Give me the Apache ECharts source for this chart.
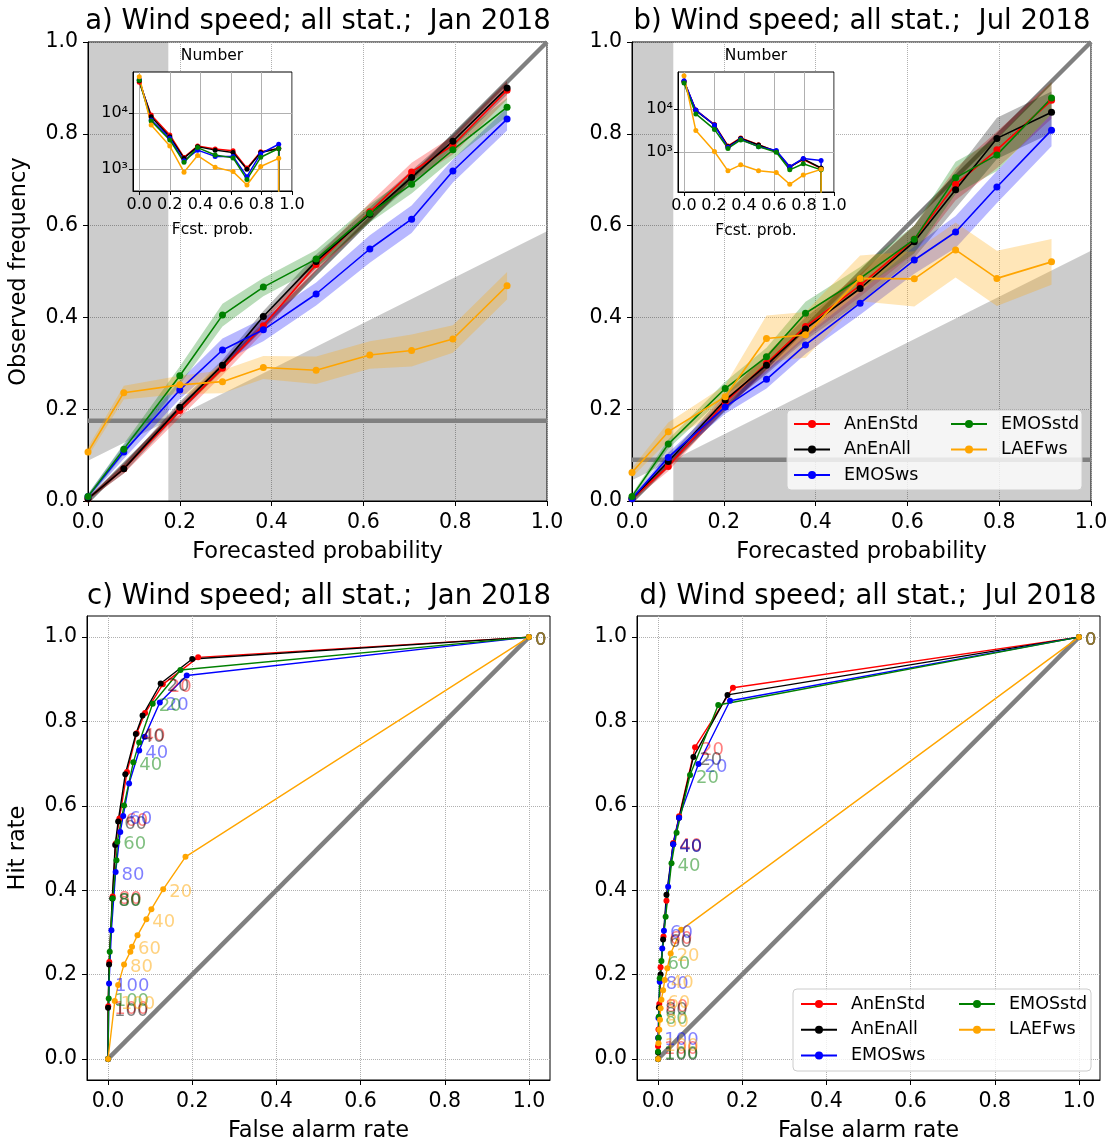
<!DOCTYPE html>
<html><head><meta charset="utf-8">
<script src="https://cdn.jsdelivr.net/npm/echarts@6/dist/echarts.min.js"></script>
<style>html,body{margin:0;padding:0;background:#fff}#c{width:1113px;height:1144px}</style>
</head><body><div id="c"></div>
<script>
// ---------------- DATA ----------------
const modelNames = ['AnEnStd', 'AnEnAll', 'EMOSws', 'EMOSstd', 'LAEFws'];
const tickVals = [0, 0.2, 0.4, 0.6, 0.8, 1.0];

const climJan = 0.175;
const climJul = 0.09;

// reliability: forecast-probability bins
const binsJan = [0, 0.078, 0.2, 0.293, 0.382, 0.497, 0.614, 0.705, 0.795, 0.913];
const binsJul = [0, 0.079, 0.203, 0.293, 0.378, 0.497, 0.615, 0.705, 0.795, 0.914];

// observed frequency, Jan 2018
const relJanAnEnStd = [0.005, 0.07, 0.197, 0.289, 0.382, 0.515, 0.63, 0.717, 0.775, 0.895];
const relJanAnEnAll = [0.005, 0.07, 0.204, 0.296, 0.402, 0.522, 0.625, 0.705, 0.784, 0.9];
const relJanEMOSws  = [0.01, 0.107, 0.242, 0.329, 0.373, 0.451, 0.549, 0.614, 0.719, 0.832];
const relJanEMOSstd = [0.01, 0.113, 0.273, 0.405, 0.466, 0.527, 0.627, 0.69, 0.765, 0.858];
const relJanLAEFws  = [0.107, 0.236, 0.253, 0.26, 0.291, 0.285, 0.318, 0.328, 0.353, 0.469];
// uncertainty half-widths, Jan
const bandJanAnEnStd = [0.003, 0.01, 0.015, 0.015, 0.015, 0.015, 0.02, 0.02, 0.02, 0.02];
const bandJanAnEnAll = [0.003, 0.01, 0.012, 0.012, 0.012, 0.015, 0.015, 0.015, 0.015, 0.015];
const bandJanEMOSws  = [0.005, 0.015, 0.02, 0.025, 0.025, 0.025, 0.03, 0.03, 0.025, 0.025];
const bandJanEMOSstd = [0.005, 0.012, 0.02, 0.025, 0.02, 0.02, 0.02, 0.02, 0.02, 0.02];
const bandJanLAEFws  = [0.01, 0.015, 0.02, 0.025, 0.025, 0.03, 0.03, 0.035, 0.03, 0.03];

// observed frequency, Jul 2018
const relJulAnEnStd = [0.005, 0.075, 0.215, 0.3, 0.38, 0.47, 0.57, 0.69, 0.765, 0.873];
const relJulAnEnAll = [0.005, 0.086, 0.22, 0.296, 0.375, 0.463, 0.565, 0.678, 0.79, 0.847];
const relJulEMOSws  = [0.005, 0.095, 0.205, 0.265, 0.34, 0.431, 0.525, 0.586, 0.684, 0.808];
const relJulEMOSstd = [0.01, 0.124, 0.245, 0.314, 0.409, 0.485, 0.57, 0.704, 0.754, 0.878];
const relJulLAEFws  = [0.062, 0.151, 0.227, 0.354, 0.362, 0.485, 0.484, 0.547, 0.485, 0.521];
const bandJulAnEnStd = [0.005, 0.01, 0.015, 0.02, 0.025, 0.025, 0.03, 0.035, 0.04, 0.04];
const bandJulAnEnAll = [0.005, 0.01, 0.015, 0.02, 0.025, 0.03, 0.035, 0.04, 0.045, 0.045];
const bandJulEMOSws  = [0.005, 0.01, 0.015, 0.02, 0.02, 0.025, 0.03, 0.035, 0.035, 0.035];
const bandJulEMOSstd = [0.005, 0.01, 0.015, 0.02, 0.025, 0.025, 0.03, 0.035, 0.035, 0.035];
const bandJulLAEFws  = [0.01, 0.02, 0.025, 0.05, 0.05, 0.05, 0.06, 0.06, 0.06, 0.05];

// inset: number of forecasts per bin (last entry = empty bin)
const cntBinsJan = [0, 0.078, 0.2, 0.293, 0.382, 0.497, 0.614, 0.705, 0.795, 0.913, 0.913];
const cntBinsJul = [0, 0.079, 0.203, 0.293, 0.378, 0.497, 0.615, 0.705, 0.795, 0.914, 0.914];
const cntJanAnEnStd = [36000, 9300, 4100, 1630, 2600, 2300, 2150, 1050, 2050, 2350, 1];
const cntJanAnEnAll = [38000, 8700, 3800, 1580, 2540, 2200, 2000, 1000, 2000, 2350, 1];
const cntJanEMOSws  = [40000, 7600, 3600, 1420, 2200, 1700, 1700, 740, 1900, 2800, 1];
const cntJanEMOSstd = [39000, 7300, 3340, 1330, 2440, 1800, 1600, 660, 1640, 2350, 1];
const cntJanLAEFws  = [45000, 6200, 2600, 890, 1760, 1090, 910, 525, 1120, 1570, 1];
const cntJulAnEnStd = [45000, 9600, 4400, 1400, 2150, 1500, 1050, 460, 680, 420, 1];
const cntJulAnEnAll = [44000, 9300, 4300, 1360, 2100, 1480, 1040, 450, 700, 430, 1];
const cntJulEMOSws  = [46000, 9600, 4300, 1300, 2000, 1350, 1100, 460, 720, 640, 1];
const cntJulEMOSstd = [41000, 7800, 3400, 1230, 1940, 1350, 1000, 390, 540, 390, 1];
const cntJulLAEFws  = [60000, 3200, 1040, 370, 510, 370, 340, 180, 295, 400, 1];

// ROC: thresholds (last point = origin, unlabeled)
const rocThresholds = [0, 10, 20, 30, 40, 50, 60, 70, 80, 90, 100, null];
const rocJanAnEnStdF = [1, 0.214, 0.13, 0.088, 0.068, 0.045, 0.027, 0.018, 0.011, 0.003, 0.0005, 0];
const rocJanAnEnStdH = [1, 0.952, 0.888, 0.82, 0.772, 0.68, 0.57, 0.51, 0.385, 0.23, 0.125, 0];
const rocJanAnEnAllF = [1, 0.2, 0.125, 0.082, 0.066, 0.041, 0.024, 0.017, 0.01, 0.0024, 0, 0];
const rocJanAnEnAllH = [1, 0.948, 0.89, 0.814, 0.77, 0.675, 0.563, 0.507, 0.38, 0.224, 0.121, 0];
const rocJanEMOSwsF  = [1, 0.187, 0.123, 0.087, 0.074, 0.05, 0.036, 0.029, 0.018, 0.008, 0.0024, 0];
const rocJanEMOSwsH  = [1, 0.909, 0.845, 0.764, 0.731, 0.653, 0.576, 0.538, 0.443, 0.305, 0.179, 0];
const rocJanEMOSstdF = [1, 0.172, 0.106, 0.074, 0.06, 0.038, 0.022, 0.02, 0.011, 0.004, 0.0016, 0];
const rocJanEMOSstdH = [1, 0.922, 0.842, 0.75, 0.703, 0.601, 0.515, 0.471, 0.38, 0.254, 0.143, 0];
const rocJanLAEFwsF  = [1, 0.184, 0.131, 0.103, 0.091, 0.07, 0.057, 0.053, 0.038, 0.024, 0.016, 0];
const rocJanLAEFwsH  = [1, 0.479, 0.402, 0.355, 0.331, 0.293, 0.266, 0.254, 0.224, 0.175, 0.137, 0];

const rocJulAnEnStdF = [1, 0.178, 0.088, 0.05, 0.036, 0.02, 0.013, 0.006, 0.003, 0.001, 0, 0];
const rocJulAnEnStdH = [1, 0.88, 0.739, 0.575, 0.512, 0.375, 0.29, 0.217, 0.13, 0.07, 0.03, 0];
const rocJulAnEnAllF = [1, 0.165, 0.084, 0.05, 0.036, 0.02, 0.012, 0.006, 0.002, 0.001, 0, 0];
const rocJulAnEnAllH = [1, 0.863, 0.716, 0.572, 0.509, 0.389, 0.283, 0.2, 0.122, 0.049, 0.015, 0];
const rocJulEMOSwsF  = [1, 0.171, 0.096, 0.05, 0.036, 0.024, 0.014, 0.01, 0.004, 0.001, 0.0005, 0];
const rocJulEMOSwsH  = [1, 0.849, 0.699, 0.572, 0.509, 0.408, 0.304, 0.262, 0.183, 0.097, 0.05, 0];
const rocJulEMOSstdF = [1, 0.143, 0.076, 0.044, 0.032, 0.018, 0.008, 0.004, 0.002, 0.001, 0, 0];
const rocJulEMOSstdH = [1, 0.839, 0.673, 0.536, 0.464, 0.337, 0.232, 0.191, 0.1, 0.05, 0.017, 0];
const rocJulLAEFwsF  = [1, 0.055, 0.03, 0.022, 0.016, 0.012, 0.008, 0.006, 0.0047, 0.003, 0.001, 0];
const rocJulLAEFwsH  = [1, 0.306, 0.25, 0.215, 0.187, 0.163, 0.14, 0.12, 0.093, 0.069, 0.037, 0];

// ---------------- STYLE ----------------
const FONT = 'DejaVu Sans';
const colorOf = {AnEnStd: '#ff0000', AnEnAll: '#000000', EMOSws: '#0000ff', EMOSstd: '#008000', LAEFws: '#ffa500'};
const rgbOf = {AnEnStd: '255,0,0', AnEnAll: '0,0,0', EMOSws: '0,0,255', EMOSstd: '0,128,0', LAEFws: '255,165,0'};
const fmt1 = v => (Math.round(v * 10) / 10).toFixed(1);
const sup = {3: '\u00b3', 4: '\u2074'};

const grids = [
  {left: 88, top: 42, width: 459, height: 459},
  {left: 632, top: 42, width: 459, height: 459},
  {left: 87, top: 616, width: 463, height: 464},
  {left: 637, top: 616, width: 463, height: 464},
  {left: 133, top: 72, width: 159, height: 119, z: 5, backgroundColor: '#fff'},
  {left: 678, top: 72, width: 156, height: 120, z: 5, backgroundColor: '#fff'}
].map(g => Object.assign({show: true, borderColor: '#000', borderWidth: 1, backgroundColor: 'transparent'}, g));

function mainAxis(gi, dim, name, padded) {
  const a = {
    gridIndex: gi, type: 'value',
    min: padded ? -0.05 : 0, max: padded ? 1.05 : 1,
    axisLine: {show: true, onZero: false, lineStyle: {color: '#000', width: 1}},
    axisTick: {show: true, length: 5, lineStyle: {color: '#000'}},
    axisLabel: {fontSize: 20.5, color: '#000', fontFamily: FONT, margin: dim === 'x' ? 11 : 10, formatter: fmt1},
    splitLine: {show: true, lineStyle: {type: 'dotted', color: '#b0b0b0', width: 1}},
    name: name || '', nameLocation: 'middle',
    nameGap: dim === 'x' ? 40 : 57,
    nameTextStyle: {fontSize: 22.5, color: '#000', fontFamily: FONT}
  };
  if (padded) {
    a.axisLabel.customValues = tickVals;
    a.axisTick.customValues = tickVals;
  } else {
    a.interval = 0.2;
  }
  return a;
}
function insetX(gi, xmin) {
  return {
    gridIndex: gi, type: 'value', min: xmin, max: 1, z: 5,
    axisLine: {show: true, onZero: false, lineStyle: {color: '#000'}},
    axisTick: {show: true, length: 4, customValues: tickVals, lineStyle: {color: '#000'}},
    axisLabel: {fontSize: 16, color: '#000', fontFamily: FONT, margin: 6, customValues: tickVals, formatter: fmt1},
    splitLine: {show: true, lineStyle: {type: 'solid', color: '#b0b0b0', width: 1}},
    name: 'Fcst. prob.', nameLocation: 'middle', nameGap: 31,
    nameTextStyle: {fontSize: 15.5, color: '#000', fontFamily: FONT}
  };
}
function insetY(gi, ymin, ymax) {
  return {
    gridIndex: gi, type: 'log', logBase: 10, min: ymin, max: ymax, z: 5,
    axisLine: {show: true, onZero: false, lineStyle: {color: '#000'}},
    axisTick: {show: true, length: 4, customValues: [1000, 10000], lineStyle: {color: '#000'}},
    axisLabel: {fontSize: 16, color: '#000', fontFamily: FONT, margin: 5, customValues: [1000, 10000],
      formatter: v => '10' + sup[Math.round(Math.log10(v))]},
    splitLine: {show: true, lineStyle: {type: 'solid', color: '#b0b0b0', width: 1}}
  };
}

const xAxes = [
  mainAxis(0, 'x', 'Forecasted probability', false),
  mainAxis(1, 'x', 'Forecasted probability', false),
  mainAxis(2, 'x', 'False alarm rate', true),
  mainAxis(3, 'x', 'False alarm rate', true),
  insetX(4, -0.041),
  insetX(5, -0.04)
];
const yAxes = [
  mainAxis(0, 'y', 'Observed frequency', false),
  mainAxis(1, 'y', '', false),
  mainAxis(2, 'y', 'Hit rate', true),
  mainAxis(3, 'y', '', true),
  insetY(4, 410, 54600),
  insetY(5, 119, 73600)
];

const series = [];

function shading(gi, clim) {
  series.push({
    type: 'custom', xAxisIndex: gi, yAxisIndex: gi, z: 1, silent: true, clip: true, animation: false,
    data: [[clim, clim]],
    renderItem: function (params, api) {
      const c = api.value(0);
      const p = (x, y) => api.coord([x, y]);
      const st = {fill: 'rgba(0,0,0,0.2)'};
      return {type: 'group', children: [
        {type: 'polygon', shape: {points: [p(0, c / 2), p(c, c), p(c, 1), p(0, 1)]}, style: st},
        {type: 'polygon', shape: {points: [p(c, 0), p(c, c), p(1, (1 + c) / 2), p(1, 0)]}, style: st}
      ]};
    }
  });
}
function grayLine(gi, pts) {
  series.push({
    type: 'line', xAxisIndex: gi, yAxisIndex: gi, z: 2, silent: true, animation: false,
    data: pts, symbol: 'none', lineStyle: {color: '#808080', width: 4.5}
  });
}
function band(gi, bins, vals, hw, name) {
  series.push({
    type: 'custom', xAxisIndex: gi, yAxisIndex: gi, z: 3, silent: true, clip: true, animation: false,
    data: bins.map((x, i) => [x, vals[i] - hw[i], vals[i] + hw[i]]),
    renderItem: function (params, api) {
      if (params.dataIndex !== 0) return null;
      const pts = [];
      for (let i = 0; i < bins.length; i++) pts.push(api.coord([bins[i], vals[i] + hw[i]]));
      for (let i = bins.length - 1; i >= 0; i--) pts.push(api.coord([bins[i], vals[i] - hw[i]]));
      return {type: 'polygon', shape: {points: pts}, style: {fill: 'rgba(' + rgbOf[name] + ',0.28)'}};
    }
  });
}
function relLine(gi, bins, vals, name, size, width, z) {
  series.push({
    type: 'line', name: name, xAxisIndex: gi, yAxisIndex: gi, z: z || 4, animation: false,
    data: bins.map((x, i) => [x, vals[i]]),
    symbol: 'circle', symbolSize: size || 7,
    lineStyle: {color: colorOf[name], width: width || 1.6},
    itemStyle: {color: colorOf[name]}
  });
}
function rocLine(gi, F, H, name) {
  series.push({
    type: 'line', name: name, xAxisIndex: gi, yAxisIndex: gi, z: 4, animation: false,
    data: F.map((f, i) => {
      const t = rocThresholds[i];
      const item = {value: [f, H[i]]};
      if (t !== null && t % 20 === 0) item.label = {show: true, formatter: String(t)};
      return item;
    }),
    symbol: 'circle', symbolSize: 6,
    lineStyle: {color: colorOf[name], width: 1.4},
    itemStyle: {color: colorOf[name]},
    label: {show: false, position: 'right', distance: 3, offset: [0, 3], fontSize: 18, fontFamily: FONT,
      color: 'rgba(' + rgbOf[name] + ',0.5)'}
  });
}

// panel a
shading(0, climJan);
grayLine(0, [[0, climJan], [1, climJan]]);
grayLine(0, [[0, 0], [1, 1]]);
const relJan = {AnEnStd: relJanAnEnStd, AnEnAll: relJanAnEnAll, EMOSws: relJanEMOSws, EMOSstd: relJanEMOSstd, LAEFws: relJanLAEFws};
const bandJan = {AnEnStd: bandJanAnEnStd, AnEnAll: bandJanAnEnAll, EMOSws: bandJanEMOSws, EMOSstd: bandJanEMOSstd, LAEFws: bandJanLAEFws};
modelNames.forEach(n => band(0, binsJan, relJan[n], bandJan[n], n));
modelNames.forEach(n => relLine(0, binsJan, relJan[n], n));
// panel b
shading(1, climJul);
grayLine(1, [[0, climJul], [1, climJul]]);
grayLine(1, [[0, 0], [1, 1]]);
const relJul = {AnEnStd: relJulAnEnStd, AnEnAll: relJulAnEnAll, EMOSws: relJulEMOSws, EMOSstd: relJulEMOSstd, LAEFws: relJulLAEFws};
const bandJul = {AnEnStd: bandJulAnEnStd, AnEnAll: bandJulAnEnAll, EMOSws: bandJulEMOSws, EMOSstd: bandJulEMOSstd, LAEFws: bandJulLAEFws};
modelNames.forEach(n => band(1, binsJul, relJul[n], bandJul[n], n));
modelNames.forEach(n => relLine(1, binsJul, relJul[n], n));
// insets
const cntJan = {AnEnStd: cntJanAnEnStd, AnEnAll: cntJanAnEnAll, EMOSws: cntJanEMOSws, EMOSstd: cntJanEMOSstd, LAEFws: cntJanLAEFws};
const cntJul = {AnEnStd: cntJulAnEnStd, AnEnAll: cntJulAnEnAll, EMOSws: cntJulEMOSws, EMOSstd: cntJulEMOSstd, LAEFws: cntJulLAEFws};
modelNames.forEach(n => relLine(4, cntBinsJan, cntJan[n], n, 5, 1.5, 6));
modelNames.forEach(n => relLine(5, cntBinsJul, cntJul[n], n, 5, 1.5, 6));
// panel c, d
grayLine(2, [[0, 0], [1, 1]]);
grayLine(3, [[0, 0], [1, 1]]);
const rocJan = {AnEnStd: [rocJanAnEnStdF, rocJanAnEnStdH], AnEnAll: [rocJanAnEnAllF, rocJanAnEnAllH],
  EMOSws: [rocJanEMOSwsF, rocJanEMOSwsH], EMOSstd: [rocJanEMOSstdF, rocJanEMOSstdH], LAEFws: [rocJanLAEFwsF, rocJanLAEFwsH]};
const rocJul = {AnEnStd: [rocJulAnEnStdF, rocJulAnEnStdH], AnEnAll: [rocJulAnEnAllF, rocJulAnEnAllH],
  EMOSws: [rocJulEMOSwsF, rocJulEMOSwsH], EMOSstd: [rocJulEMOSstdF, rocJulEMOSstdH], LAEFws: [rocJulLAEFwsF, rocJulLAEFwsH]};
modelNames.forEach(n => rocLine(2, rocJan[n][0], rocJan[n][1], n));
modelNames.forEach(n => rocLine(3, rocJul[n][0], rocJul[n][1], n));

// legends (two columns each)
function legend(left, top, gap, names) {
  return {
    orient: 'vertical', left: left, top: top, padding: 0, itemWidth: 36, itemHeight: 10, itemGap: gap,
    data: names, selectedMode: false, z: 6,
    textStyle: {fontSize: 17.5, lineHeight: 20, color: '#000', fontFamily: FONT, padding: [0, 0, 0, 9]}
  };
}
const legends = [
  legend(793, 414, 5.5, ['AnEnStd', 'AnEnAll', 'EMOSws']),
  legend(950, 414, 5.5, ['EMOSstd', 'LAEFws']),
  legend(800, 994, 5.8, ['AnEnStd', 'AnEnAll', 'EMOSws']),
  legend(958, 994, 5.8, ['EMOSstd', 'LAEFws'])
];

function txt(t, x, y, size) {
  return {type: 'text', x: x, y: y, z: 10, silent: true,
    style: {text: t, font: size + 'px "' + FONT + '"', fill: '#000', align: 'center', verticalAlign: 'middle'}};
}
const graphics = [
  txt('a) Wind speed; all stat.;  Jan 2018', 318, 22, 27.5),
  txt('b) Wind speed; all stat.;  Jul 2018', 862, 22, 27.5),
  txt('c) Wind speed; all stat.;  Jan 2018', 319, 597, 27.5),
  txt('d) Wind speed; all stat.;  Jul 2018', 868, 597, 27.5),
  txt('Number', 212, 56, 15.5),
  txt('Number', 756, 56, 15.5),
  {type: 'rect', z: 3, silent: true, shape: {x: 787, y: 410, width: 295, height: 80, r: 4},
    style: {fill: 'rgba(255,255,255,0.8)', stroke: '#cccccc', lineWidth: 1}},
  {type: 'rect', z: 3, silent: true, shape: {x: 793, y: 989, width: 298, height: 82, r: 4},
    style: {fill: 'rgba(255,255,255,0.8)', stroke: '#cccccc', lineWidth: 1}}
];

const chart = echarts.init(document.getElementById('c'), null, {renderer: 'canvas', width: 1113, height: 1144});
chart.setOption({
  animation: false,
  backgroundColor: '#fff',
  textStyle: {fontFamily: FONT},
  grid: grids,
  xAxis: xAxes,
  yAxis: yAxes,
  legend: legends,
  graphic: graphics,
  series: series
});
</script></body></html>
